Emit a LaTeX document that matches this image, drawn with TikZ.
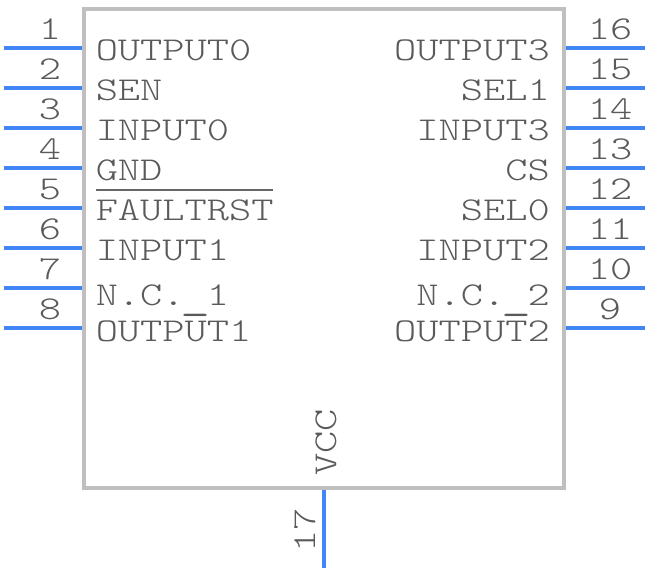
\documentclass[tikz,border=0pt]{standalone}
\usepackage{fontspec}
\newfontfamily\pinfont[FakeStretch=1.27]{Latin Modern Mono Light}
\usepackage{tikz}

\tikzset{
  body/.style={draw={rgb, 255:red, 191; green, 191; blue, 191},line width=3pt,minimum width=360pt,minimum height=359pt,inner sep=0pt},
  lead/.style={draw={rgb, 255:red, 66; green, 133; blue, 244},line width=3pt},
  bar/.style={draw={rgb, 255:red, 102; green, 102; blue, 102},line width=1.5pt},
  pinname/.style={inner sep=0pt,text={rgb, 255:red, 90; green, 90; blue, 90},font=\pinfont\fontsize{25}{25}\selectfont},
  lname/.style={pinname,anchor=base west},
  rname/.style={pinname,anchor=base east},
  pinno/.style={pinname,anchor=base}
}
\newcommand{\lowbar}{\makebox[\fontcharwd\font`0][c]{\raisebox{-2.6pt}{\scalebox{1.35}{\_}}}}

\begin{document}
\begin{tikzpicture}[x=0.75pt,y=0.75pt,yscale=-1,xscale=1]
\useasboundingbox (0,0) rectangle (648,572);

% Package
\node [body] (ic) at (324,248.5) {};

% Left leads
\foreach \n/\y in {1/47.5,2/87.5,3/127.5,4/167.5,5/207.5,6/247.5,7/287.5,8/327.5}{
  \coordinate (l\n) at (4,\y);
  \coordinate (lb\n) at (82,\y);
  \draw [lead] (l\n) -- (lb\n);
  \node [pinno] (no\n) at (50,\y-8) {\n};
}
% Right leads
\foreach \n/\y in {16/47.5,15/87.5,14/127.5,13/167.5,12/207.5,11/247.5,10/287.5,9/327.5}{
  \coordinate (r\n) at (645,\y);
  \coordinate (rb\n) at (566,\y);
  \draw [lead] (rb\n) -- (r\n);
  \node [pinno] (no\n) at (610,\y-8) {\n};
}
% Bottom lead
\coordinate (vb) at (323.5,490);
\coordinate (ve) at (323.5,568);
\draw [lead] (vb) -- (ve);
\node [pinname,anchor=base west,rotate=90] (no17) at (315,553) {17};

% Text Node
\node [lname] (output0) at (95.5,60.5) {OUTPUT0};
\node [lname] (sen) at (95.5,100.5) {SEN};
\node [lname] (input0) at (95.5,140.5) {INPUT0};
\node [lname] (gnd) at (95.5,180.5) {GND};
\node [lname] (faultrst) at (95.5,220.5) {FAULTRST};
\node [lname] (input1) at (95.5,260.5) {INPUT1};
\node [lname] (nc1) at (95.5,305) {N.C.\lowbar1};
\node [lname] (output1) at (95.5,341) {OUTPUT1};
% Text Node
\node [rname] (output3) at (550,60.5) {OUTPUT3};
\node [rname] (sel1) at (550,100.5) {SEL1};
\node [rname] (input3) at (550,140.5) {INPUT3};
\node [rname] (cs) at (550,180.5) {CS};
\node [rname] (sel0) at (550,220.5) {SEL0};
\node [rname] (input2) at (550,260.5) {INPUT2};
\node [rname] (nc2) at (550,305) {N.C.\lowbar2};
\node [rname] (output2) at (550,341) {OUTPUT2};
% Text Node
\node [pinname,anchor=base west,rotate=90] (vcc) at (336,476) {VCC};

% Overbar
\draw [bar] (96,189.5) -- (273,189.5);

\end{tikzpicture}
\end{document}
